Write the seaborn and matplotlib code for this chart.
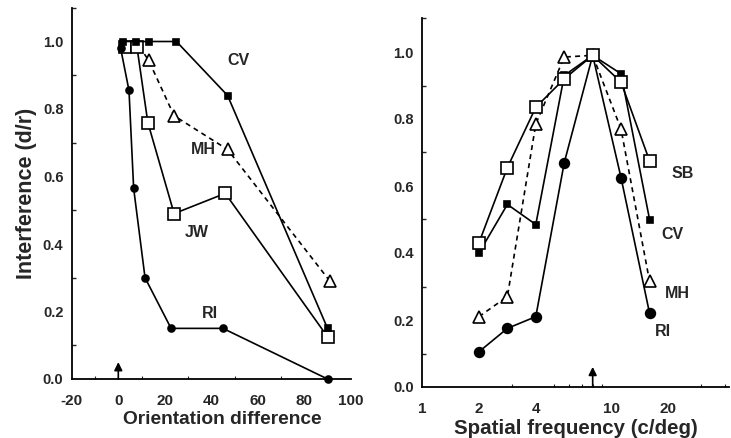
import numpy as np
import pandas as pd
import matplotlib
matplotlib.use("Agg")
import matplotlib.pyplot as plt
import seaborn as sns
from matplotlib.ticker import MultipleLocator, NullFormatter, LogLocator

sns.set_style("white")
plt.rcParams['font.family'] = ['Liberation Sans', 'DejaVu Sans']
plt.rcParams['font.weight'] = 'bold'

# ---- Left panel: orientation difference ----
ori_cv_x = [2, 7.5, 13, 25, 47, 90]
ori_cv_y = [1.0, 1.0, 1.0, 1.0, 0.84, 0.15]
ori_mh_x = [9, 13, 24, 47, 91]
ori_mh_y = [0.985, 0.945, 0.78, 0.68, 0.29]
ori_jw_x = [3, 8, 12.7, 24, 46, 90]
ori_jw_y = [0.985, 0.985, 0.76, 0.49, 0.55, 0.125]
ori_ri_x = [1, 4.6, 6.6, 11.5, 22.7, 45, 90]
ori_ri_y = [0.98, 0.855, 0.565, 0.30, 0.15, 0.15, 0.0]

# ---- Right panel: spatial frequency ----
sf_x = [2, 2.83, 4, 5.66, 8, 11.3, 16]
sf_sb_y = [0.43, 0.655, 0.835, 0.92, 0.99, 0.91, 0.675]
sf_cv_y = [0.40, 0.545, 0.485, 0.93, 0.99, 0.935, 0.50]
sf_mh_y = [0.21, 0.27, 0.785, 0.985, 0.99, 0.77, 0.315]
sf_ri_y = [0.105, 0.175, 0.21, 0.67, 0.99, 0.625, 0.22]

ori_ticks = [-20, 0, 20, 40, 60, 80, 100]
sf_ticks = [1, 2, 4, 10, 20]
sf_ticklabels = ["1", "2", "4", "10", "20"]
y_ticks = [0.0, 0.2, 0.4, 0.6, 0.8, 1.0]

W, H = 731, 438
fig = plt.figure(figsize=(W / 100, H / 100), dpi=100)

def fx(px):
    return px / W

def fy(py):
    return 1 - py / H

# left axes: -20 -> 71.8 px, 100 -> 350.8 px ; y 0 -> 379, 1.1 -> 7.75
axL = fig.add_axes([fx(71.8), fy(379), (350.8 - 71.8) / W, (379 - 7.75) / H])
# right axes: x 1 -> 422 px, 42 -> 422+189*log10(42); y 0 -> 387, 1.1 -> 18.5
xr_max = 42
axR = fig.add_axes([fx(422), fy(387), 189 * np.log10(xr_max) / W, (387 - 18.5) / H])

lw = 1.2

def series(ax, x, y, marker, ms, mfc, ls='-', lw=lw, zorder=3, markevery=None):
    df = pd.DataFrame({"x": x, "y": y})
    sns.lineplot(data=df, x="x", y="y", ax=ax, estimator=None, sort=False,
                 color="black", linestyle=ls, linewidth=lw, marker=marker,
                 markersize=ms, markerfacecolor=mfc, markeredgecolor="black",
                 markeredgewidth=1.2, clip_on=False, zorder=zorder,
                 markevery=markevery)

# Left panel
series(axL, ori_mh_x, ori_mh_y, '^', 8.5, 'white', ls=(0, (3, 2.5)), zorder=2,
       markevery=list(range(1, len(ori_mh_x))))
series(axL, ori_jw_x, ori_jw_y, 's', 8, 'white', zorder=3)
series(axL, ori_ri_x, ori_ri_y, 'o', 5, 'black', zorder=4)
series(axL, ori_cv_x, ori_cv_y, 's', 5, 'black', zorder=5)

# Right panel
series(axR, sf_x, sf_mh_y, '^', 8.5, 'white', ls=(0, (3, 2.5)), zorder=2)
series(axR, sf_x, sf_cv_y, 's', 5, 'black', zorder=3)
series(axR, sf_x, sf_ri_y, 'o', 7, 'black', zorder=4)
series(axR, sf_x, sf_sb_y, 's', 8, 'white', zorder=5)

for ax in (axL, axR):
    ax.set_ylim(0, 1.1)
    ax.set_yticks(y_ticks)
    ax.set_yticklabels([f"{v:.1f}" for v in y_ticks], fontsize=10.5, fontweight='bold')
    ax.yaxis.set_minor_locator(MultipleLocator(0.1))
    for s in ("top", "right"):
        ax.spines[s].set_visible(False)
    for s in ("left", "bottom"):
        ax.spines[s].set_linewidth(1.3)
        ax.spines[s].set_color("black")
    ax.tick_params(axis='y', which='major', direction='out', length=4, width=1.2, pad=2)
    ax.tick_params(axis='y', which='minor', direction='in', length=3, width=1.0, left=True)
    ax.tick_params(axis='x', which='major', direction='inout', length=6, width=1.2, pad=8)
    ax.tick_params(axis='x', which='minor', direction='in', length=2.5, width=0.8, bottom=True)
    ax.set_facecolor("white")

axL.set_xlim(-20, 100)
axL.set_xticks(ori_ticks)
axL.set_xticklabels([str(t) for t in ori_ticks], fontsize=11, fontweight='bold')
axL.xaxis.set_minor_locator(MultipleLocator(10))
axL.set_xlabel("Orientation difference", fontsize=13.8, fontweight='bold', labelpad=3)
axL.xaxis.set_label_coords(0.54, -0.085)
axL.set_ylabel("Interference (d/r)", fontsize=15.5, fontweight='bold', labelpad=4)

axR.set_xscale('log')
axR.set_xlim(1, xr_max)
axR.set_xticks(sf_ticks)
axR.set_xticklabels(sf_ticklabels, fontsize=11, fontweight='bold')
axR.xaxis.set_minor_locator(LogLocator(base=10, subs=np.arange(2, 10)))
axR.xaxis.set_minor_formatter(NullFormatter())
axR.set_xlabel("Spatial frequency (c/deg)", fontsize=14.8, fontweight='bold', labelpad=2)
axR.set_ylabel("")

# Arrows marking the adaptation value
arrow = dict(arrowstyle='-|>', color='black', lw=1.2, mutation_scale=12,
             shrinkA=0, shrinkB=0)
axL.annotate("", xy=(0, 0.05), xytext=(0, 0.0), arrowprops=arrow)
axR.annotate("", xy=(8, 0.06), xytext=(8, 0.0), arrowprops=arrow)

# Series labels
lab = dict(fontsize=11.5, fontweight='bold', ha='center', va='center')
axL.text(51.5, 0.945, "CV", **lab)
axL.text(36.8, 0.68, "MH", **lab)
axL.text(33.7, 0.435, "JW", **lab)
axL.text(39.4, 0.195, "RI", **lab)

axR.text(23.9, 0.636, "SB", **lab)
axR.text(21.2, 0.454, "CV", **lab)
axR.text(22.5, 0.28, "MH", **lab)
axR.text(18.8, 0.165, "RI", **lab)

fig.savefig("out.png", dpi=100, facecolor="white")
